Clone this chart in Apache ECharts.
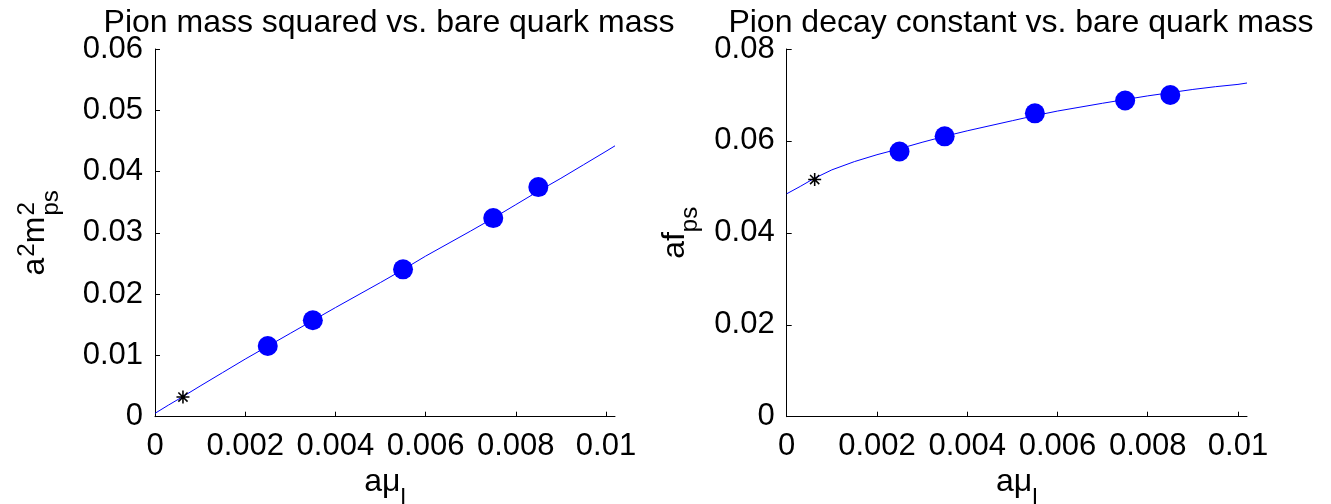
<!DOCTYPE html>
<html>
<head>
<meta charset="utf-8">
<script src="https://cdn.jsdelivr.net/npm/echarts@6/dist/echarts.min.js"></script>
<style>
html,body{margin:0;padding:0;background:#fff;}
#c{width:1331px;height:504px;}
</style>
</head>
<body>
<div id="c"></div>
<script>
// ---- data ----
const quarkMass = [0.0025, 0.0035, 0.0055, 0.0075, 0.0085];
const mpsSquared = [0.01153, 0.01573, 0.02405, 0.03241, 0.03747];
const fps = [0.0577, 0.0610, 0.0660, 0.0688, 0.0700];

const physMass = [0.00062];
const physMps2 = [0.00321];
const physFps = [0.0516];

const fitX    = [0, 0.0003, 0.0006, 0.001, 0.0015, 0.002, 0.0025, 0.003, 0.0035, 0.004, 0.005, 0.0055, 0.006, 0.007, 0.0075, 0.008, 0.0085, 0.009, 0.0095, 0.01, 0.0102];
const fitMps2 = [0.00055, 0.0019, 0.0032, 0.0050, 0.0072, 0.0094, 0.0115, 0.0136, 0.0157, 0.0178, 0.0219, 0.0240, 0.0262, 0.0303, 0.0324, 0.0346, 0.0368, 0.0389, 0.0411, 0.0433, 0.0442];
const fitFps  = [0.0485, 0.0501, 0.0518, 0.0537, 0.0555, 0.0570, 0.0583, 0.0597, 0.0610, 0.0622, 0.0644, 0.0655, 0.0665, 0.0682, 0.0690, 0.0698, 0.0705, 0.0712, 0.0718, 0.0723, 0.0726];

const xTicks = [0, 0.002, 0.004, 0.006, 0.008, 0.01];
const yTicksLeft = [0, 0.01, 0.02, 0.03, 0.04, 0.05, 0.06];
const yTicksRight = [0, 0.02, 0.04, 0.06, 0.08];

const titles = ['Pion mass squared vs. bare quark mass', 'Pion decay constant vs. bare quark mass'];

// ---- chart ----
const FONT = '"Liberation Sans", Arial, sans-serif';
const BLUE = '#0000ff';
const STAR = 'path://M-1.2,-10L1.2,-10L1.2,10L-1.2,10Z M-10,-1.2L10,-1.2L10,1.2L-10,1.2Z M-7.92,-6.22L-6.22,-7.92L7.92,6.22L6.22,7.92Z M6.22,-7.92L7.92,-6.22L-6.22,7.92L-7.92,6.22Z';

function fmt(v){ return v === 0 ? '0' : String(+Number(v).toFixed(4)); }
function pairs(xs, ys){ return xs.map((x,i)=>[x, ys[i]]); }

const chart = echarts.init(document.getElementById('c'), null, {renderer:'canvas'});

const grids = [
  {left:155, right:716, top:49, bottom:87.3, containLabel:false, outerBoundsMode:'none'},
  {left:786.7, right:84, top:49, bottom:87.3, containLabel:false, outerBoundsMode:'none'}
];

const richX = {
  m:{fontSize:32, fontFamily:FONT, color:'#000', lineHeight:40},
  sub:{fontSize:24, fontFamily:FONT, color:'#000', lineHeight:24, verticalAlign:'bottom', padding:[0,0,-8,0]}
};
const richY = {
  m:{fontSize:32, fontFamily:FONT, color:'#000', lineHeight:40, align:'left'},
  sup:{fontSize:24, fontFamily:FONT, color:'#000', lineHeight:24, verticalAlign:'top', padding:[0,0,10,1], align:'left'},
  supz:{fontSize:24, fontFamily:FONT, color:'#000', lineHeight:24, verticalAlign:'top', padding:[0,0,10,1], width:0, align:'left'},
  sub:{fontSize:24, fontFamily:FONT, color:'#000', lineHeight:24, verticalAlign:'bottom', padding:[0,0,-8,0], align:'left'}
};

function xAxis(gi){
  return {
    type:'value', gridIndex:gi, min:0, max:0.0102,
    axisLine:{show:true, onZero:false, lineStyle:{color:'#000', width:1}},
    axisTick:{show:true, inside:true, length:5, lineStyle:{color:'#000'}, customValues:xTicks},
    axisLabel:{color:'#000', fontSize:31, fontFamily:FONT, margin:14, customValues:xTicks, formatter:fmt},
    splitLine:{show:false},
    name:'{m|aμ}{sub|l}', nameLocation:'middle', nameGap:41,
    nameTextStyle:{rich:richX}
  };
}
function yAxis(gi, max, ticks, name, gap){
  return {
    type:'value', gridIndex:gi, min:0, max:max,
    axisLine:{show:true, onZero:false, lineStyle:{color:'#000', width:1}},
    axisTick:{show:true, inside:true, length:5, lineStyle:{color:'#000'}, customValues:ticks},
    axisLabel:{color:'#000', fontSize:31, fontFamily:FONT, margin:12, customValues:ticks, formatter:fmt},
    splitLine:{show:false},
    name:name, nameLocation:'middle', nameRotate:90, nameGap:gap,
    nameTextStyle:{rich:richY}
  };
}

chart.setOption({
  animation:false,
  backgroundColor:'#fff',
  title:[
    {text:titles[0], left:384, top:2, textAlign:'center', textStyle:{fontSize:32, fontWeight:'normal', fontFamily:FONT, color:'#000'}},
    {text:titles[1], left:1016, top:2, textAlign:'center', textStyle:{fontSize:32, fontWeight:'normal', fontFamily:FONT, color:'#000'}}
  ],
  grid:grids,
  xAxis:[xAxis(0), xAxis(1)],
  yAxis:[
    yAxis(0, 0.06, yTicksLeft, '{m|a}{sup|2}{m|m}{supz|2}{sub|ps}', 100),
    yAxis(1, 0.08, yTicksRight, '{m|af}{sub|ps}', 92)
  ],
  series:[
    {type:'line', xAxisIndex:0, yAxisIndex:0, data:pairs(fitX, fitMps2), showSymbol:false, lineStyle:{color:BLUE, width:1}, z:2},
    {type:'scatter', xAxisIndex:0, yAxisIndex:0, data:pairs(quarkMass, mpsSquared), symbol:'circle', symbolSize:20, itemStyle:{color:BLUE, opacity:1}, z:3},
    {type:'scatter', xAxisIndex:0, yAxisIndex:0, data:pairs(physMass, physMps2), symbol:STAR, symbolSize:13, itemStyle:{color:'#000', opacity:1}, z:4},
    {type:'line', xAxisIndex:1, yAxisIndex:1, data:pairs(fitX, fitFps), showSymbol:false, lineStyle:{color:BLUE, width:1}, z:2},
    {type:'scatter', xAxisIndex:1, yAxisIndex:1, data:pairs(quarkMass, fps), symbol:'circle', symbolSize:20, itemStyle:{color:BLUE, opacity:1}, z:3},
    {type:'scatter', xAxisIndex:1, yAxisIndex:1, data:pairs(physMass, physFps), symbol:STAR, symbolSize:13, itemStyle:{color:'#000', opacity:1}, z:4}
  ]
});
</script>
</body>
</html>
